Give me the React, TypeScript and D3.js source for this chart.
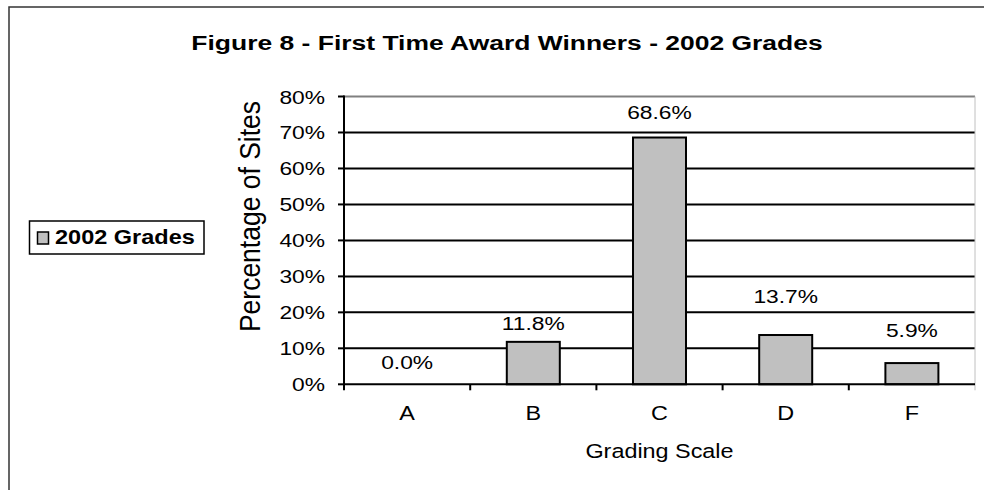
import React from "react";
import * as d3 from "d3";

const categories = ["A", "B", "C", "D", "F"];
const values = [0.0, 11.8, 68.6, 13.7, 5.9];
const valueLabels = ["0.0%", "11.8%", "68.6%", "13.7%", "5.9%"];
// vertical lift of each data label above its bar, in percentage points
const labelLift = [4.2, 3.3, 5.2, 8.9, 7.2];
const yTicks = [0, 10, 20, 30, 40, 50, 60, 70, 80];
const seriesName = "2002 Grades";
const titleText = "Figure 8 - First Time Award Winners - 2002 Grades";
const xTitle = "Grading Scale";
const yTitle = "Percentage of Sites";

const W = 984;
const H = 490;
const plot = { left: 344, right: 975, top: 96.5, bottom: 384.3 };
const FONT = "'Liberation Sans', Arial, Helvetica, sans-serif";
const SX = 1.2;

function T(props: any) {
  const { x, y, sx = SX, size, anchor = "start", weight = "normal", children, rotate } = props;
  const tr = rotate
    ? `translate(${x},${y}) scale(${sx},1) rotate(${rotate})`
    : `translate(${x},${y}) scale(${sx},1)`;
  return (
    <text
      transform={tr}
      fontSize={size}
      textAnchor={anchor}
      fontWeight={weight}
      fontFamily={FONT}
      fill="#000"
    >
      {children}
    </text>
  );
}

export default function App() {
  const x = d3.scaleBand<string>().domain(categories).range([plot.left, plot.right]).paddingInner(0).paddingOuter(0);
  const y = d3.scaleLinear().domain([0, 80]).range([plot.bottom, plot.top]);
  const bw = x.bandwidth() * 0.42;
  const bandEdges = categories.map((c) => x(c)!).concat([plot.right]);

  return (
    <svg width={W} height={H} style={{ position: "absolute", left: 0, top: 0, background: "#fff" }}>
      <rect x={0} y={0} width={W} height={H} fill="#fff" />
      {/* outer frame */}
      <rect x={9} y={7} width={1000} height={520} fill="none" stroke="#333" strokeWidth={1.5} />

      {/* title */}
      <T x={507} y={50} size={21} weight="bold" sx={1.26} anchor="middle">{titleText}</T>

      {/* plot area */}
      <rect x={plot.left} y={y(80)} width={plot.right - plot.left} height={plot.bottom - y(80)} fill="#fff" />
      {/* gridlines */}
      {yTicks.filter((t) => t > 0 && t < 80).map((t) => (
        <line key={t} x1={plot.left} x2={plot.right} y1={y(t)} y2={y(t)} stroke="#000" strokeWidth={2} />
      ))}
      {/* top and right border */}
      <line x1={plot.left} x2={plot.right} y1={y(80)} y2={y(80)} stroke="#808080" strokeWidth={2} />
      <line x1={plot.right} x2={plot.right} y1={y(80)} y2={plot.bottom + 6} stroke="#c0c0c0" strokeWidth={1} />

      {/* bars */}
      {categories.map((c, i) => {
        const cx = x(c)! + x.bandwidth() / 2;
        const v = values[i];
        if (v <= 0) return null;
        return (
          <rect key={c} x={cx - bw / 2} y={y(v)} width={bw} height={y(0) - y(v)} fill="#c0c0c0" stroke="#000" strokeWidth={2} />
        );
      })}

      {/* x axis */}
      <line x1={plot.left} x2={plot.right} y1={y(0)} y2={y(0)} stroke="#000" strokeWidth={2} />
      {bandEdges.slice(1, -1).map((e, i) => (
        <line key={i} x1={e} x2={e} y1={y(0)} y2={y(0) + 6} stroke="#000" strokeWidth={2} />
      ))}
      {/* y axis */}
      <line x1={plot.left} x2={plot.left} y1={y(80) - 1} y2={y(0) + 6} stroke="#000" strokeWidth={2} />
      {yTicks.map((t) => (
        <g key={t}>
          <line x1={plot.left - 6} x2={plot.left} y1={y(t)} y2={y(t)} stroke="#000" strokeWidth={2} />
          <T x={325} y={y(t) + 7} size={19} anchor="end">{`${t}%`}</T>
        </g>
      ))}

      {/* data labels */}
      {categories.map((c, i) => (
        <T key={c} x={x(c)! + x.bandwidth() / 2} y={y(values[i] + labelLift[i])} size={19} anchor="middle">
          {valueLabels[i]}
        </T>
      ))}

      {/* category labels */}
      {categories.map((c) => (
        <T key={c} x={x(c)! + x.bandwidth() / 2} y={420} size={19.5} anchor="middle">{c}</T>
      ))}

      {/* axis titles */}
      <T x={659.5} y={458} size={19.5} anchor="middle">{xTitle}</T>
      <T x={260} y={216.5} size={26.5} sx={1.1} anchor="middle" rotate={-90}>{yTitle}</T>

      {/* legend */}
      <rect x={29.5} y={221} width={174.5} height={33} fill="#fff" stroke="#000" strokeWidth={1.5} />
      <rect x={37.5} y={232} width={11} height={12} fill="#c0c0c0" stroke="#000" strokeWidth={1.5} />
      <T x={55} y={243.5} size={21} weight="bold" sx={1.12}>{seriesName}</T>
    </svg>
  );
}
